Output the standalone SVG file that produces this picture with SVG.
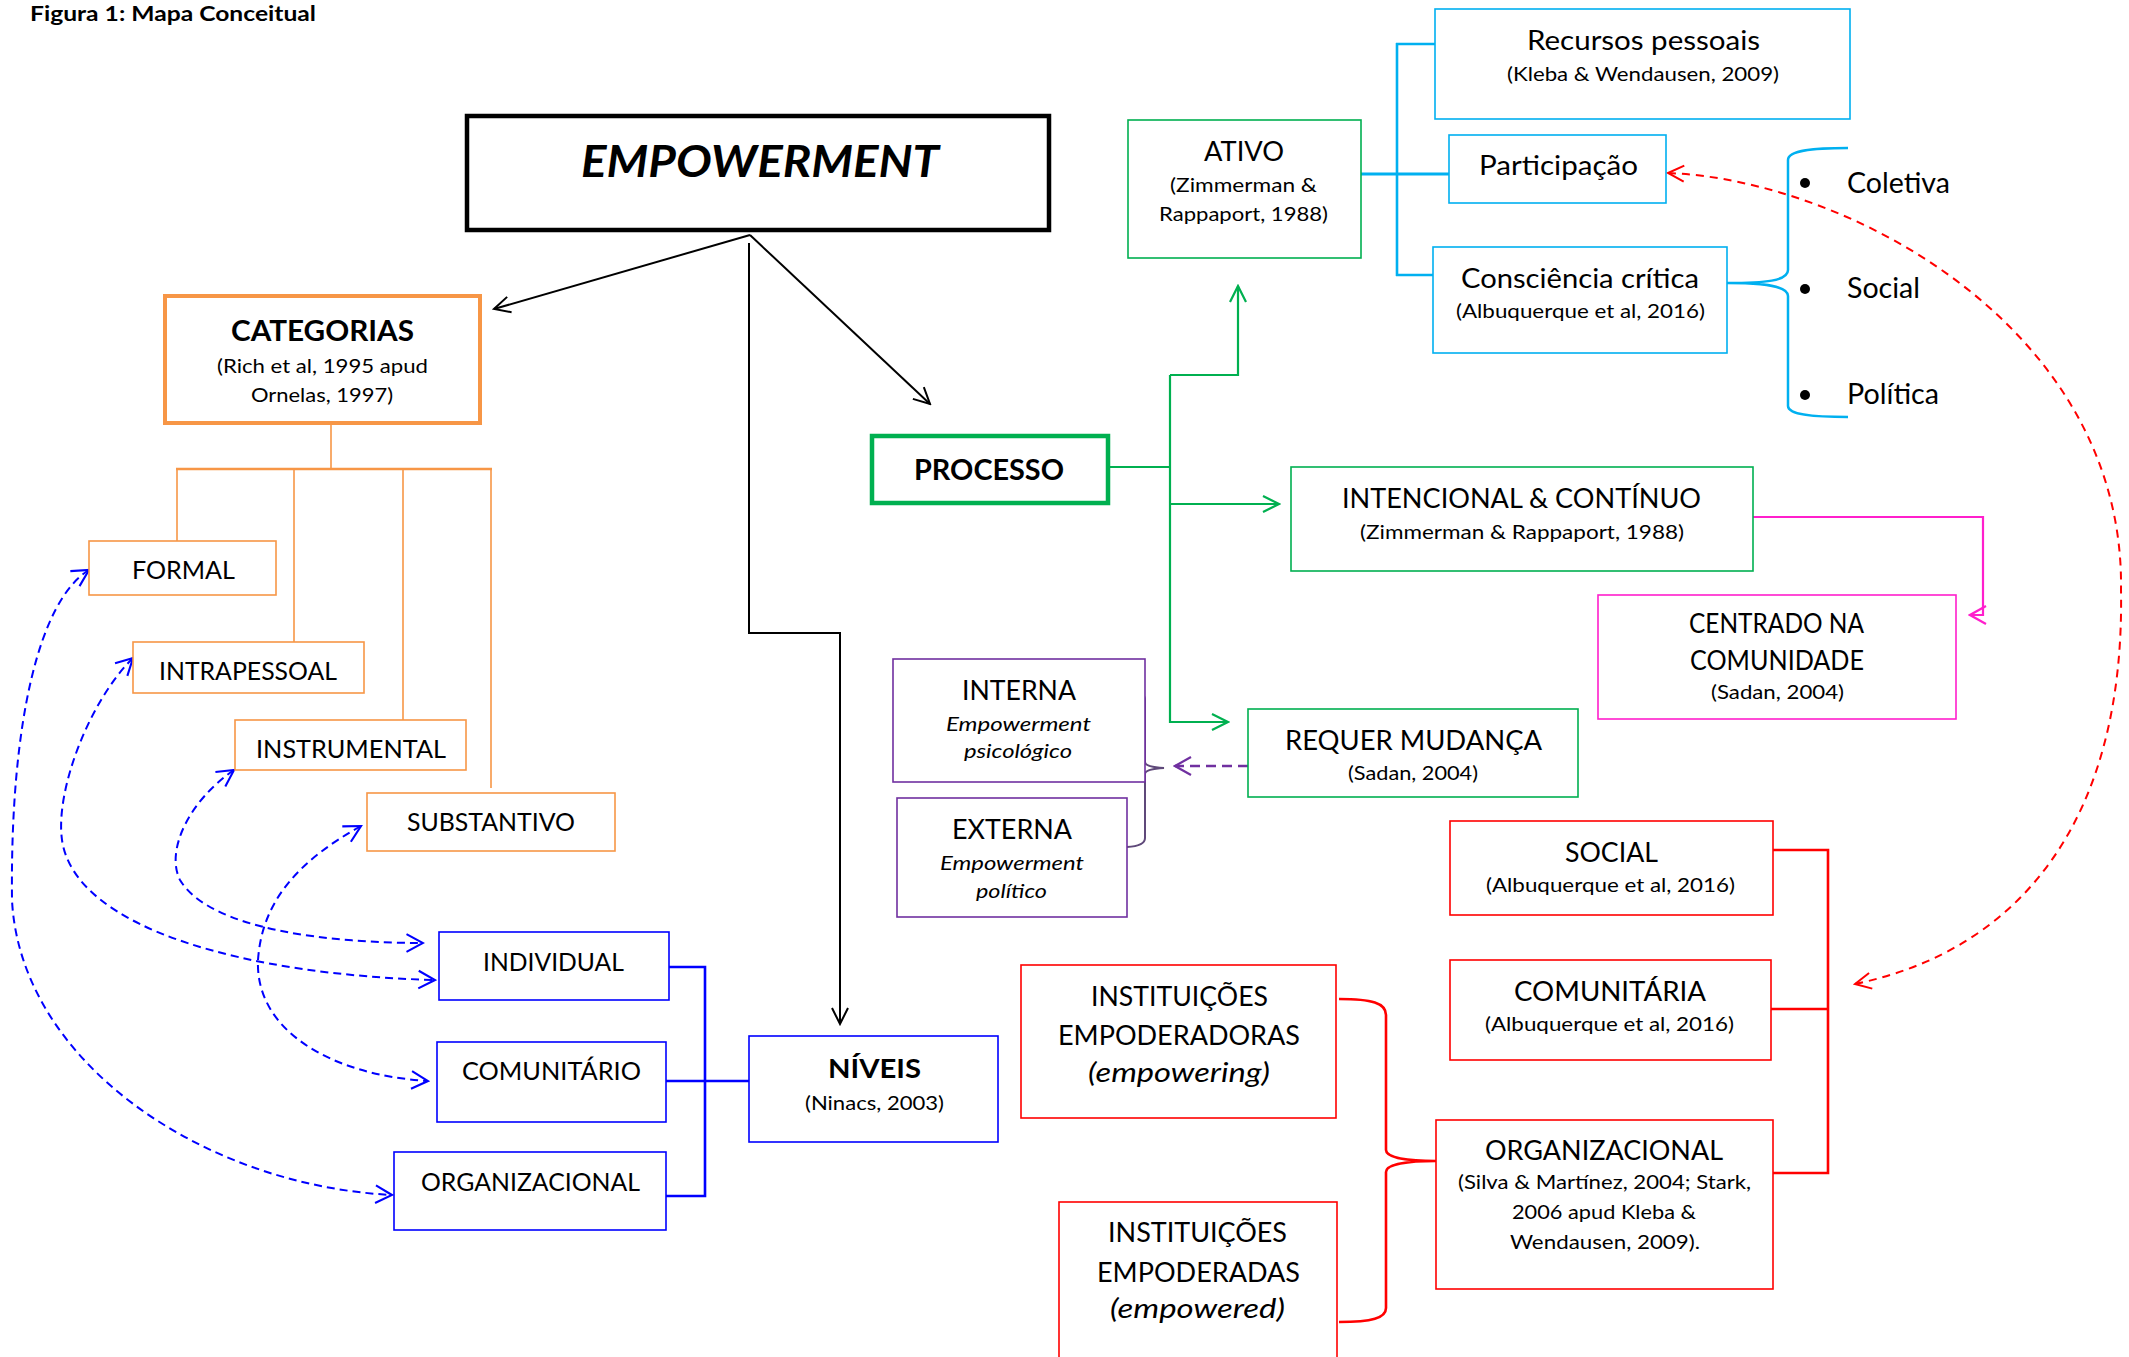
<svg xmlns="http://www.w3.org/2000/svg" width="2129" height="1357" viewBox="0 0 2129 1357">
<style>
text{font-family:Lato,"Liberation Sans",sans-serif;fill:#000}
.b{font-weight:bold}
.i{font-style:italic}
.lab{font-size:26px}
.cit{font-size:19px}
.box{fill:#fff}
.or{stroke:#F79646}
.gr{stroke:#00B050}
.cy{stroke:#00B0F0}
.bl{stroke:#0000FF}
.rd{stroke:#FF0000}
.mg{stroke:#FF1FCC}
.pu{stroke:#7030A0}
.thin{stroke-width:1.6}
.ln{fill:none}
</style>
<defs>
<marker id="aBk" viewBox="0 0 20 20" refX="18" refY="10" markerWidth="20" markerHeight="20" markerUnits="userSpaceOnUse" orient="auto-start-reverse"><path d="M2,2 L18,10 L2,18" fill="none" stroke="#000" stroke-width="2"/></marker>
<marker id="aGr" viewBox="0 0 20 20" refX="18" refY="10" markerWidth="20" markerHeight="20" markerUnits="userSpaceOnUse" orient="auto-start-reverse"><path d="M2,2 L18,10 L2,18" fill="none" stroke="#00B050" stroke-width="2.2"/></marker>
<marker id="aBl" viewBox="0 0 20 20" refX="18" refY="10" markerWidth="22" markerHeight="22" markerUnits="userSpaceOnUse" orient="auto-start-reverse"><path d="M3,2 L18,10 L3,18" fill="none" stroke="#0000FF" stroke-width="1.9"/></marker>
<marker id="aRd" viewBox="0 0 20 20" refX="18" refY="10" markerWidth="20" markerHeight="20" markerUnits="userSpaceOnUse" orient="auto-start-reverse"><path d="M2,2 L18,10 L2,18" fill="none" stroke="#FF0000" stroke-width="2"/></marker>
<marker id="aMg" viewBox="0 0 20 20" refX="18" refY="10" markerWidth="20" markerHeight="20" markerUnits="userSpaceOnUse" orient="auto-start-reverse"><path d="M2,1 L18,10 L2,19" fill="none" stroke="#FF1FCC" stroke-width="2.2"/></marker>
<marker id="aPu" viewBox="0 0 20 20" refX="18" refY="10" markerWidth="20" markerHeight="20" markerUnits="userSpaceOnUse" orient="auto-start-reverse"><path d="M2,1 L18,10 L2,19" fill="none" stroke="#7030A0" stroke-width="2.2"/></marker>
</defs>
<rect width="2129" height="1357" fill="#fff"/>
<text class="b" x="30" y="21" font-size="20" textLength="286" lengthAdjust="spacingAndGlyphs">Figura 1: Mapa Conceitual</text>

<g id="connectors" class="ln">
  <!-- black -->
  <line x1="750" y1="235" x2="494" y2="309" stroke="#000" stroke-width="2" marker-end="url(#aBk)"/>
  <line x1="750" y1="235" x2="930" y2="404" stroke="#000" stroke-width="2" marker-end="url(#aBk)"/>
  <polyline points="749,243 749,633 840,633 840,1024" stroke="#000" stroke-width="2" fill="none" marker-end="url(#aBk)"/>
  <!-- orange tree -->
  <g class="or" stroke-width="1.6">
    <line x1="331" y1="425" x2="331" y2="469"/>
    <line x1="176" y1="469" x2="492" y2="469" stroke-width="2.6"/>
    <line x1="177" y1="469" x2="177" y2="541"/>
    <line x1="294" y1="469" x2="294" y2="642"/>
    <line x1="403" y1="469" x2="403" y2="720"/>
    <line x1="491" y1="469" x2="491" y2="788"/>
  </g>
  <!-- green -->
  <g class="gr" stroke-width="2.2" fill="none">
    <line x1="1109" y1="467" x2="1170" y2="467"/>
    <line x1="1170" y1="375" x2="1170" y2="723"/>
    <polyline points="1170,375 1238,375 1238,286" marker-end="url(#aGr)"/>
    <line x1="1170" y1="504" x2="1279" y2="504" marker-end="url(#aGr)"/>
    <line x1="1170" y1="722" x2="1228" y2="722" marker-end="url(#aGr)"/>
  </g>
  <!-- magenta -->
  <polyline points="1753,517 1983,517 1983,615 1970,615" class="mg" stroke-width="2.2" fill="none" marker-end="url(#aMg)"/>
  <!-- cyan -->
  <g class="cy" fill="none">
    <line x1="1361" y1="174" x2="1449" y2="174" stroke-width="3"/>
    <line x1="1397" y1="43" x2="1397" y2="276" stroke-width="2.6"/>
    <line x1="1396" y1="44" x2="1435" y2="44" stroke-width="2.6"/>
    <line x1="1396" y1="275" x2="1433" y2="275" stroke-width="2.6"/>
    <path d="M1727,283 C1765,283 1788,281 1788,270 L1788,160 C1788,150 1815,148 1848,148 M1727,283 C1765,283 1788,286 1788,296 L1788,406 C1788,415 1815,417 1848,417" stroke-width="2.5"/>
  </g>
  <g fill="#000">
    <circle cx="1805" cy="183" r="5"/>
    <circle cx="1805" cy="289" r="5"/>
    <circle cx="1805" cy="395" r="5"/>
  </g>
  <!-- purple -->
  <line x1="1248" y1="766" x2="1175" y2="766" class="pu" stroke-width="2.5" stroke-dasharray="10 6" marker-end="url(#aPu)"/>
  <path d="M1132,691 Q1145,691 1145,700 L1145,762 Q1145,767 1164,768 Q1145,769 1145,774 L1145,838 Q1145,846 1127,847" stroke="#5F497A" stroke-width="2" fill="none"/>
  <!-- red -->
  <g class="rd" fill="none" stroke-width="2.6">
    <polyline points="1773,850 1828,850 1828,1173 1773,1173"/>
    <line x1="1771" y1="1009" x2="1828" y2="1009"/>
    <path d="M1339,999 C1372,999 1386,1003 1386,1015 L1386,1150 C1386,1158 1408,1161 1436,1161 C1408,1161 1386,1164 1386,1172 L1386,1308 C1386,1318 1372,1322 1339,1322"/>
  </g>
  <path d="M1668,173 C1850,180 2125,330 2121,590 C2125,820 2020,950 1855,984" class="rd" stroke-width="2" fill="none" stroke-dasharray="8 6" marker-start="url(#aRd)" marker-end="url(#aRd)"/>
  <!-- blue -->
  <g class="bl" fill="none" stroke-width="2.6">
    <polyline points="669,967 705,967 705,1196 666,1196"/>
    <line x1="666" y1="1081" x2="749" y2="1081"/>
  </g>
  <g class="bl" fill="none" stroke-width="2" stroke-dasharray="8 5">
    <path d="M89,570 C40,600 10,720 12,900 C20,1060 200,1185 392,1195" marker-start="url(#aBl)" marker-end="url(#aBl)"/>
    <path d="M133,658 C90,700 55,790 62,840 C75,930 250,975 435,980" marker-start="url(#aBl)" marker-end="url(#aBl)"/>
    <path d="M234,770 C190,800 165,850 180,880 C210,930 330,943 423,943" marker-start="url(#aBl)" marker-end="url(#aBl)"/>
    <path d="M361,826 C300,860 262,900 258,960 C255,1030 330,1075 428,1081" marker-start="url(#aBl)" marker-end="url(#aBl)"/>
  </g>
</g>

<g id="empowerment">
  <rect x="467" y="116" width="582" height="114" class="box" stroke="#000" stroke-width="4.5"/>
  <text class="b i" x="581" y="177" font-size="44.5" textLength="358" lengthAdjust="spacingAndGlyphs">EMPOWERMENT</text>
</g>
<g id="categorias">
  <rect x="165" y="296" width="315" height="127" class="box or" stroke-width="4"/>
  <text class="b" x="231" y="341" font-size="29" textLength="183" lengthAdjust="spacingAndGlyphs">CATEGORIAS</text>
  <text class="cit" x="217" y="373" textLength="211" lengthAdjust="spacingAndGlyphs">(Rich et al, 1995 apud</text>
  <text class="cit" x="251" y="402" textLength="142" lengthAdjust="spacingAndGlyphs">Ornelas, 1997)</text>
</g>
<g id="formal">
  <rect x="89" y="541" width="187" height="54" class="box or thin"/>
  <text x="132" y="579" font-size="25" textLength="103" lengthAdjust="spacingAndGlyphs">FORMAL</text>
</g>
<g id="intrapessoal">
  <rect x="133" y="642" width="231" height="51" class="box or thin"/>
  <text x="159" y="680" font-size="25" textLength="178" lengthAdjust="spacingAndGlyphs">INTRAPESSOAL</text>
</g>
<g id="instrumental">
  <rect x="235" y="720" width="231" height="50" class="box or thin"/>
  <text x="256" y="758" font-size="25" textLength="190" lengthAdjust="spacingAndGlyphs">INSTRUMENTAL</text>
</g>
<g id="substantivo">
  <rect x="367" y="793" width="248" height="58" class="box or thin"/>
  <text x="407" y="831" font-size="25" textLength="168" lengthAdjust="spacingAndGlyphs">SUBSTANTIVO</text>
</g>
<g id="processo">
  <rect x="872" y="436" width="236" height="67" class="box gr" stroke-width="4.5"/>
  <text class="b" x="914" y="480" font-size="28" textLength="150" lengthAdjust="spacingAndGlyphs">PROCESSO</text>
</g>
<g id="ativo">
  <rect x="1128" y="120" width="233" height="138" class="box gr thin"/>
  <text x="1204" y="161" font-size="26" textLength="80" lengthAdjust="spacingAndGlyphs">ATIVO</text>
  <text class="cit" x="1170" y="192" textLength="147" lengthAdjust="spacingAndGlyphs">(Zimmerman &amp;</text>
  <text class="cit" x="1159" y="221" textLength="169" lengthAdjust="spacingAndGlyphs">Rappaport, 1988)</text>
</g>
<g id="recursos">
  <rect x="1435" y="9" width="415" height="110" class="box cy thin"/>
  <text x="1527" y="50" font-size="26" textLength="233" lengthAdjust="spacingAndGlyphs">Recursos pessoais</text>
  <text class="cit" x="1507" y="81" textLength="272" lengthAdjust="spacingAndGlyphs">(Kleba &amp; Wendausen, 2009)</text>
</g>
<g id="participacao">
  <rect x="1449" y="135" width="217" height="68" class="box cy thin"/>
  <text x="1479" y="175" font-size="27" textLength="159" lengthAdjust="spacingAndGlyphs">Participação</text>
</g>
<g id="consciencia">
  <rect x="1433" y="247" width="294" height="106" class="box cy thin"/>
  <text x="1461" y="288" font-size="26" textLength="238" lengthAdjust="spacingAndGlyphs">Consciência crítica</text>
  <text class="cit" x="1456" y="318" textLength="249" lengthAdjust="spacingAndGlyphs">(Albuquerque et al, 2016)</text>
</g>
<g id="tipos">
  <text x="1847" y="193" font-size="28" textLength="103" lengthAdjust="spacingAndGlyphs">Coletiva</text>
  <text x="1847" y="298" font-size="28" textLength="73" lengthAdjust="spacingAndGlyphs">Social</text>
  <text x="1847" y="404" font-size="28" textLength="92" lengthAdjust="spacingAndGlyphs">Política</text>
</g>
<g id="intencional">
  <rect x="1291" y="467" width="462" height="104" class="box gr thin"/>
  <text x="1342" y="508" font-size="27" textLength="359" lengthAdjust="spacingAndGlyphs">INTENCIONAL &amp; CONTÍNUO</text>
  <text class="cit" x="1360" y="539" textLength="324" lengthAdjust="spacingAndGlyphs">(Zimmerman &amp; Rappaport, 1988)</text>
</g>
<g id="centrado">
  <rect x="1598" y="595" width="358" height="124" class="box mg thin"/>
  <text x="1689" y="633" font-size="26" textLength="175" lengthAdjust="spacingAndGlyphs">CENTRADO NA</text>
  <text x="1690" y="670" font-size="26" textLength="174" lengthAdjust="spacingAndGlyphs">COMUNIDADE</text>
  <text class="cit" x="1711" y="699" textLength="133" lengthAdjust="spacingAndGlyphs">(Sadan, 2004)</text>
</g>
<g id="interna">
  <rect x="893" y="659" width="252" height="123" class="box pu thin"/>
  <text x="962" y="700" font-size="27" textLength="114" lengthAdjust="spacingAndGlyphs">INTERNA</text>
  <text class="i" x="946" y="731" font-size="19.5" textLength="145" lengthAdjust="spacingAndGlyphs">Empowerment</text>
  <text class="i" x="964" y="758" font-size="19.5" textLength="108" lengthAdjust="spacingAndGlyphs">psicológico</text>
</g>
<g id="externa">
  <rect x="897" y="798" width="230" height="119" class="box pu thin"/>
  <text x="952" y="839" font-size="27" textLength="120" lengthAdjust="spacingAndGlyphs">EXTERNA</text>
  <text class="i" x="940" y="870" font-size="19.5" textLength="144" lengthAdjust="spacingAndGlyphs">Empowerment</text>
  <text class="i" x="976" y="898" font-size="19.5" textLength="71" lengthAdjust="spacingAndGlyphs">político</text>
</g>
<g id="requer">
  <rect x="1248" y="709" width="330" height="88" class="box gr thin"/>
  <text x="1285" y="750" font-size="27" textLength="257" lengthAdjust="spacingAndGlyphs">REQUER MUDANÇA</text>
  <text class="cit" x="1348" y="780" textLength="130" lengthAdjust="spacingAndGlyphs">(Sadan, 2004)</text>
</g>
<g id="social">
  <rect x="1450" y="821" width="323" height="94" class="box rd thin"/>
  <text x="1565" y="862" font-size="27" textLength="93" lengthAdjust="spacingAndGlyphs">SOCIAL</text>
  <text class="cit" x="1486" y="892" textLength="249" lengthAdjust="spacingAndGlyphs">(Albuquerque et al, 2016)</text>
</g>
<g id="comunitaria">
  <rect x="1450" y="960" width="321" height="100" class="box rd thin"/>
  <text x="1514" y="1001" font-size="27" textLength="192" lengthAdjust="spacingAndGlyphs">COMUNITÁRIA</text>
  <text class="cit" x="1485" y="1031" textLength="249" lengthAdjust="spacingAndGlyphs">(Albuquerque et al, 2016)</text>
</g>
<g id="organizacional-red">
  <rect x="1436" y="1120" width="337" height="169" class="box rd thin"/>
  <text x="1485" y="1160" font-size="27" textLength="238" lengthAdjust="spacingAndGlyphs">ORGANIZACIONAL</text>
  <text class="cit" x="1458" y="1189" textLength="293" lengthAdjust="spacingAndGlyphs">(Silva &amp; Martínez, 2004; Stark,</text>
  <text class="cit" x="1512" y="1219" textLength="184" lengthAdjust="spacingAndGlyphs">2006 apud Kleba &amp;</text>
  <text class="cit" x="1510" y="1249" textLength="190" lengthAdjust="spacingAndGlyphs">Wendausen, 2009).</text>
</g>
<g id="empoderadoras">
  <rect x="1021" y="965" width="315" height="153" class="box rd thin"/>
  <text x="1091" y="1006" font-size="27" textLength="177" lengthAdjust="spacingAndGlyphs">INSTITUIÇÕES</text>
  <text x="1058" y="1045" font-size="27" textLength="242" lengthAdjust="spacingAndGlyphs">EMPODERADORAS</text>
  <text class="i" x="1088" y="1082" font-size="27" textLength="182" lengthAdjust="spacingAndGlyphs">(empowering)</text>
</g>
<g id="empoderadas">
  <rect x="1059" y="1202" width="278" height="170" class="box rd thin"/>
  <text x="1108" y="1242" font-size="27" textLength="179" lengthAdjust="spacingAndGlyphs">INSTITUIÇÕES</text>
  <text x="1097" y="1282" font-size="27" textLength="203" lengthAdjust="spacingAndGlyphs">EMPODERADAS</text>
  <text class="i" x="1110" y="1318" font-size="27" textLength="175" lengthAdjust="spacingAndGlyphs">(empowered)</text>
</g>
<g id="individual">
  <rect x="439" y="932" width="230" height="68" class="box bl thin"/>
  <text x="483" y="971" font-size="25" textLength="141" lengthAdjust="spacingAndGlyphs">INDIVIDUAL</text>
</g>
<g id="comunitario">
  <rect x="437" y="1042" width="229" height="80" class="box bl thin"/>
  <text x="462" y="1080" font-size="25" textLength="179" lengthAdjust="spacingAndGlyphs">COMUNITÁRIO</text>
</g>
<g id="organizacional-blue">
  <rect x="394" y="1152" width="272" height="78" class="box bl thin"/>
  <text x="421" y="1191" font-size="25" textLength="219" lengthAdjust="spacingAndGlyphs">ORGANIZACIONAL</text>
</g>
<g id="niveis">
  <rect x="749" y="1036" width="249" height="106" class="box bl thin"/>
  <text class="b" x="828" y="1078" font-size="27" textLength="93" lengthAdjust="spacingAndGlyphs">NÍVEIS</text>
  <text class="cit" x="805" y="1110" textLength="139" lengthAdjust="spacingAndGlyphs">(Ninacs, 2003)</text>
</g>
</svg>
